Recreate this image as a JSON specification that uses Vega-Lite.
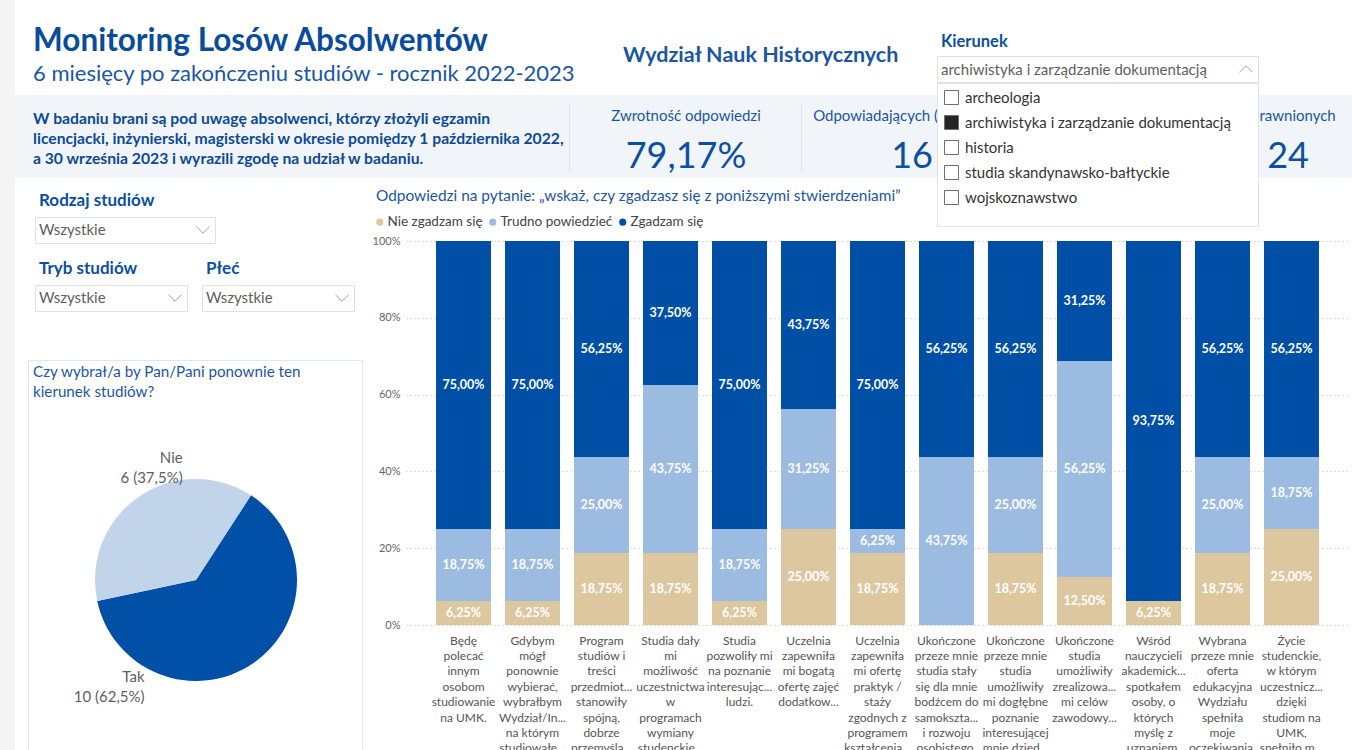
{
"$schema": "https://vega.github.io/schema/vega-lite/v6.json",
"background": "white",
"padding": 0,
"bounds": "flush",
"spacing": 0,
"resolve": {"scale": {"color": "independent", "theta": "independent"}, "legend": {"color": "independent"}},
"config": {
  "view": {"stroke": null},
  "font": "Lato",
  "locale": {"number": {"decimal": ",", "thousands": " ", "grouping": [3], "currency": ["", " zł"]}},
  "title": {"anchor": "start", "frame": "group"}
},
"vconcat": [
  {"bounds": "flush", "spacing": 0, "hconcat": [
    {"width": 15, "height": 750, "view": {"fill": "#f4f4f4"}, "data": {"values": [{}]}, "mark": {"type": "text", "text": ""}}
  ]},
  {"bounds": "flush", "spacing": 0, "hconcat": [
    {"width": 15, "height": 20, "data": {"values": [{}]}, "mark": {"type": "text", "text": ""}},
    {"width": 560, "height": 95, "data": {"values": [{}]}, "mark": {"type": "text", "text": ""},
     "title": {"text": "Monitoring Losów Absolwentów", "subtitle": "6 miesięcy po zakończeniu studiów - rocznik 2022-2023", "anchor": "start", "frame": "group", "offset": -85, "dx": 18, "fontSize": 31.5, "fontWeight": "bold", "color": "#0a4c9c", "subtitleFontSize": 22, "subtitleColor": "#1a56a4", "subtitleFontWeight": "normal", "subtitlePadding": 7}}
  ]},
  {"bounds": "flush", "spacing": 0, "hconcat": [
    {"width": 575, "height": 20, "data": {"values": [{}]}, "mark": {"type": "text", "text": ""}},
    {"width": 362, "height": 95, "data": {"values": [{}]}, "mark": {"type": "text", "text": ""},
     "title": {"text": "Wydział Nauk Historycznych", "anchor": "start", "frame": "group", "offset": -66, "dx": 48, "fontSize": 21.5, "fontWeight": "bold", "color": "#1a56a4"}}
  ]},
  {"bounds": "flush", "spacing": 0, "vconcat": [
    {"width": 1, "height": 95, "data": {"values": [{}]}, "mark": {"type": "text", "text": ""}},
    {"bounds": "flush", "spacing": 0, "hconcat": [
      {"width": 15, "height": 20, "data": {"values": [{}]}, "mark": {"type": "text", "text": ""}},
      {"width": 1337, "height": 83, "view": {"fill": "#f1f5fa"}, "data": {"values": [{}]}, "mark": {"type": "text", "text": ""}}
    ]}
  ]},
  {"bounds": "flush", "spacing": 0, "vconcat": [
    {"width": 1, "height": 103, "data": {"values": [{}]}, "mark": {"type": "text", "text": ""}},
    {"bounds": "flush", "spacing": 0, "hconcat": [
      {"width": 569, "height": 20, "data": {"values": [{}]}, "mark": {"type": "text", "text": ""}},
      {"width": 1, "height": 68, "view": {"fill": "#dbe2ea"}, "data": {"values": [{}]}, "mark": {"type": "text", "text": ""}}
    ]}
  ]},
  {"bounds": "flush", "spacing": 0, "vconcat": [
    {"width": 1, "height": 103, "data": {"values": [{}]}, "mark": {"type": "text", "text": ""}},
    {"bounds": "flush", "spacing": 0, "hconcat": [
      {"width": 801, "height": 20, "data": {"values": [{}]}, "mark": {"type": "text", "text": ""}},
      {"width": 1, "height": 68, "view": {"fill": "#dbe2ea"}, "data": {"values": [{}]}, "mark": {"type": "text", "text": ""}}
    ]}
  ]},
  {"bounds": "flush", "spacing": 0, "vconcat": [
    {"width": 1, "height": 95, "data": {"values": [{}]}, "mark": {"type": "text", "text": ""}},
    {"bounds": "flush", "spacing": 0, "hconcat": [
      {"width": 15, "height": 20, "data": {"values": [{}]}, "mark": {"type": "text", "text": ""}},
      {"width": 555, "height": 83, "data": {"values": [{}]}, "mark": {"type": "text", "text": ""},
       "title": {"text": ["W badaniu brani są pod uwagę absolwenci, którzy złożyli egzamin", "licencjacki, inżynierski, magisterski w okresie pomiędzy 1 października 2022,", "a 30 września 2023 i wyrazili zgodę na udział w badaniu."], "anchor": "start", "frame": "group", "offset": -73, "dx": 18, "fontSize": 15.7, "fontWeight": "bold", "color": "#0b4a96", "lineHeight": 20}}
    ]}
  ]},
  {"bounds": "flush", "spacing": 0, "vconcat": [
    {"width": 1, "height": 95, "data": {"values": [{}]}, "mark": {"type": "text", "text": ""}},
    {"bounds": "flush", "spacing": 0, "hconcat": [
      {"width": 570, "height": 20, "data": {"values": [{}]}, "mark": {"type": "text", "text": ""}},
      {"width": 232, "height": 83, "data": {"values": [{"label": "Zwrotność odpowiedzi", "v": 0.7917}]},
       "layer": [
         {"mark": {"type": "text", "fontSize": 15, "color": "#1a56a4", "baseline": "alphabetic", "dy": -16}, "encoding": {"text": {"field": "label", "type": "nominal"}}},
         {"mark": {"type": "text", "fontSize": 36, "color": "#0b4fa2", "baseline": "alphabetic", "dy": 31}, "encoding": {"text": {"field": "v", "type": "quantitative", "format": ".2%"}}}
       ]}
    ]}
  ]},
  {"bounds": "flush", "spacing": 0, "vconcat": [
    {"width": 1, "height": 95, "data": {"values": [{}]}, "mark": {"type": "text", "text": ""}},
    {"bounds": "flush", "spacing": 0, "hconcat": [
      {"width": 802, "height": 20, "data": {"values": [{}]}, "mark": {"type": "text", "text": ""}},
      {"width": 220, "height": 83, "data": {"values": [{"label": "Odpowiadających (ogółem)", "v": 16}]},
       "layer": [
         {"mark": {"type": "text", "fontSize": 15, "color": "#1a56a4", "baseline": "alphabetic", "dy": -16, "dx": -10}, "encoding": {"text": {"field": "label", "type": "nominal"}}},
         {"mark": {"type": "text", "fontSize": 36, "color": "#0b4fa2", "baseline": "alphabetic", "dy": 31}, "encoding": {"text": {"field": "v", "type": "quantitative", "format": "d"}}}
       ]}
    ]}
  ]},
  {"bounds": "flush", "spacing": 0, "vconcat": [
    {"width": 1, "height": 95, "data": {"values": [{}]}, "mark": {"type": "text", "text": ""}},
    {"bounds": "flush", "spacing": 0, "hconcat": [
      {"width": 1224, "height": 20, "data": {"values": [{}]}, "mark": {"type": "text", "text": ""}},
      {"width": 128, "height": 83, "data": {"values": [{"label": "Uprawnionych", "v": 24}]},
       "layer": [
         {"mark": {"type": "text", "fontSize": 15, "color": "#1a56a4", "baseline": "alphabetic", "dy": -16}, "encoding": {"text": {"field": "label", "type": "nominal"}}},
         {"mark": {"type": "text", "fontSize": 36, "color": "#0b4fa2", "baseline": "alphabetic", "dy": 31}, "encoding": {"text": {"field": "v", "type": "quantitative", "format": "d"}}}
       ]}
    ]}
  ]},
  {"bounds": "flush", "spacing": 0, "vconcat": [
    {"width": 1, "height": 56, "data": {"values": [{}]}, "mark": {"type": "text", "text": ""}},
    {"bounds": "flush", "spacing": 0, "hconcat": [
      {"width": 937, "height": 20, "data": {"values": [{}]}, "mark": {"type": "text", "text": ""}},
      {"width": 321, "height": 26, "view": {"fill": "white", "stroke": "#e0e0e0"}, "data": {"values": [{}]},
       "mark": {"type": "point", "shape": "M-1,0.5L0,-0.5L1,0.5", "filled": false, "stroke": "#7a7a7a", "strokeWidth": 1, "size": 170, "xOffset": -12},
       "encoding": {"x": {"value": "width"}},
       "title": {"text": "Kierunek", "subtitle": "archiwistyka i zarządzanie dokumentacją", "anchor": "start", "frame": "group", "offset": -22, "dx": 4, "fontSize": 16.5, "fontWeight": "bold", "color": "#0b4f9f", "subtitleFontSize": 15, "subtitleColor": "#605e5c", "subtitleFontWeight": "normal", "subtitlePadding": 13}}
    ]}
  ]},
  {"bounds": "flush", "spacing": 0, "resolve": {"scale": {"color": "independent"}, "legend": {"color": "independent"}}, "vconcat": [
    {"width": 1, "height": 83, "data": {"values": [{}]}, "mark": {"type": "text", "text": ""}},
    {"bounds": "flush", "spacing": 0, "resolve": {"scale": {"color": "independent"}, "legend": {"color": "independent"}}, "hconcat": [
      {"width": 937, "height": 20, "data": {"values": [{}]}, "mark": {"type": "text", "text": ""}},
      {"width": 321, "height": 143, "view": {"fill": "white", "stroke": "#e3e3e3"},
       "data": {"values": [{"k": "archeologia"}, {"k": "archiwistyka i zarządzanie dokumentacją"}, {"k": "historia"}, {"k": "studia skandynawsko-bałtyckie"}, {"k": "wojskoznawstwo"}]},
       "mark": {"type": "point", "shape": "square", "filled": true, "opacity": 0, "stroke": "#6e6e6e", "strokeWidth": 1},
       "encoding": {"color": {"field": "k", "type": "nominal",
         "scale": {"domain": ["archeologia", "archiwistyka i zarządzanie dokumentacją", "historia", "studia skandynawsko-bałtyckie", "wojskoznawstwo"], "range": ["white", "#252423", "white", "white", "white"]},
         "legend": {"orient": "top-left", "offset": 7, "title": null, "symbolType": "square", "symbolSize": 196, "symbolStrokeColor": "#6e6e6e", "symbolStrokeWidth": 1, "symbolOpacity": 1, "labelFontSize": 15, "labelColor": "#333333", "labelOffset": 6, "rowPadding": 6, "labelLimit": 400, "padding": 0}}}}
    ]}
  ]},
  {"bounds": "flush", "spacing": 0, "vconcat": [
    {"width": 1, "height": 217, "data": {"values": [{}]}, "mark": {"type": "text", "text": ""}},
    {"bounds": "flush", "spacing": 0, "hconcat": [
      {"width": 35, "height": 20, "data": {"values": [{}]}, "mark": {"type": "text", "text": ""}},
      {"width": 180, "height": 26, "view": {"fill": "white", "stroke": "#e1e1e1"}, "data": {"values": [{}]},
       "mark": {"type": "point", "shape": "M-1,-0.5L0,0.5L1,-0.5", "filled": false, "stroke": "#7a7a7a", "strokeWidth": 1, "size": 170, "xOffset": -12},
       "encoding": {"x": {"value": "width"}},
       "title": {"text": "Rodzaj studiów", "subtitle": "Wszystkie", "anchor": "start", "frame": "group", "offset": -22, "dx": 4, "fontSize": 17, "fontWeight": "bold", "color": "#0b4f9f", "subtitleFontSize": 15, "subtitleColor": "#605e5c", "subtitleFontWeight": "normal", "subtitlePadding": 13}}
    ]}
  ]},
  {"bounds": "flush", "spacing": 0, "vconcat": [
    {"width": 1, "height": 285, "data": {"values": [{}]}, "mark": {"type": "text", "text": ""}},
    {"bounds": "flush", "spacing": 0, "hconcat": [
      {"width": 35, "height": 20, "data": {"values": [{}]}, "mark": {"type": "text", "text": ""}},
      {"width": 152, "height": 26, "view": {"fill": "white", "stroke": "#e1e1e1"}, "data": {"values": [{}]},
       "mark": {"type": "point", "shape": "M-1,-0.5L0,0.5L1,-0.5", "filled": false, "stroke": "#7a7a7a", "strokeWidth": 1, "size": 170, "xOffset": -12},
       "encoding": {"x": {"value": "width"}},
       "title": {"text": "Tryb studiów", "subtitle": "Wszystkie", "anchor": "start", "frame": "group", "offset": -22, "dx": 4, "fontSize": 17, "fontWeight": "bold", "color": "#0b4f9f", "subtitleFontSize": 15, "subtitleColor": "#605e5c", "subtitleFontWeight": "normal", "subtitlePadding": 13}}
    ]}
  ]},
  {"bounds": "flush", "spacing": 0, "vconcat": [
    {"width": 1, "height": 285, "data": {"values": [{}]}, "mark": {"type": "text", "text": ""}},
    {"bounds": "flush", "spacing": 0, "hconcat": [
      {"width": 202, "height": 20, "data": {"values": [{}]}, "mark": {"type": "text", "text": ""}},
      {"width": 152, "height": 26, "view": {"fill": "white", "stroke": "#e1e1e1"}, "data": {"values": [{}]},
       "mark": {"type": "point", "shape": "M-1,-0.5L0,0.5L1,-0.5", "filled": false, "stroke": "#7a7a7a", "strokeWidth": 1, "size": 170, "xOffset": -12},
       "encoding": {"x": {"value": "width"}},
       "title": {"text": "Płeć", "subtitle": "Wszystkie", "anchor": "start", "frame": "group", "offset": -22, "dx": 4, "fontSize": 17, "fontWeight": "bold", "color": "#0b4f9f", "subtitleFontSize": 15, "subtitleColor": "#605e5c", "subtitleFontWeight": "normal", "subtitlePadding": 13}}
    ]}
  ]},
  {"bounds": "flush", "spacing": 0, "vconcat": [
    {"width": 1, "height": 360, "data": {"values": [{}]}, "mark": {"type": "text", "text": ""}},
    {"bounds": "flush", "spacing": 0, "hconcat": [
      {"width": 28, "height": 20, "data": {"values": [{}]}, "mark": {"type": "text", "text": ""}},
      {"width": 334, "height": 390, "view": {"fill": "white", "stroke": "#dfe6ee"}, "data": {"values": [{}]}, "mark": {"type": "text", "text": ""},
       "title": {"text": ["Czy wybrał/a by Pan/Pani ponownie ten", "kierunek studiów?"], "anchor": "start", "frame": "group", "offset": -40, "dx": 5, "fontSize": 15.2, "fontWeight": "normal", "color": "#1a56a4", "lineHeight": 20}}
    ]}
  ]},
  {"bounds": "flush", "spacing": 0, "resolve": {"scale": {"color": "independent", "theta": "independent"}, "legend": {"color": "independent"}}, "vconcat": [
    {"width": 1, "height": 479, "data": {"values": [{}]}, "mark": {"type": "text", "text": ""}},
    {"bounds": "flush", "spacing": 0, "resolve": {"scale": {"color": "independent", "theta": "independent"}, "legend": {"color": "independent"}}, "hconcat": [
      {"width": 95, "height": 20, "data": {"values": [{}]}, "mark": {"type": "text", "text": ""}},
      {"width": 202, "height": 202,
       "data": {"values": [{"odp": "Tak", "n": 10}, {"odp": "Nie", "n": 6}]},
       "layer": [
         {"mark": {"type": "arc"},
          "encoding": {
            "theta": {"field": "n", "type": "quantitative", "stack": true, "scale": {"range": [4.503, 10.786]}},
            "color": {"field": "odp", "type": "nominal", "scale": {"domain": ["Nie", "Tak"], "range": ["#c2d4ea", "#0050a8"]}, "legend": null}}},
         {"transform": [
            {"joinaggregate": [{"op": "sum", "field": "n", "as": "tot"}]},
            {"calculate": "[datum.odp, datum.n + ' (' + format(datum.n / datum.tot, '.1%') + ')']", "as": "lab"}],
          "mark": {"type": "text", "align": "right", "baseline": "middle", "fontSize": 15, "lineHeight": 20, "color": "#605e5c", "radius": 116, "dy": -7},
          "encoding": {
            "theta": {"field": "n", "type": "quantitative", "stack": true, "scale": {"range": [7.1308, 1.996]}},
            "detail": {"field": "odp", "type": "nominal"},
            "text": {"field": "lab", "type": "nominal"}}}
       ],
       "resolve": {"scale": {"theta": "independent"}}}
    ]}
  ]},
  {"bounds": "flush", "spacing": 0, "resolve": {"scale": {"color": "independent"}, "legend": {"color": "independent"}}, "vconcat": [
    {"width": 1, "height": 241, "data": {"values": [{}]}, "mark": {"type": "text", "text": ""}},
    {"bounds": "flush", "spacing": 0, "resolve": {"scale": {"color": "independent"}, "legend": {"color": "independent"}}, "hconcat": [
      {"width": 406, "height": 20, "data": {"values": [{}]}, "mark": {"type": "text", "text": ""}},
      {"width": 943, "height": 384,
       "title": {"text": "Odpowiedzi na pytanie: „wskaż, czy zgadzasz się z poniższymi stwierdzeniami”", "anchor": "start", "frame": "group", "dx": -30, "offset": 11, "fontSize": 15.4, "fontWeight": "normal", "color": "#1a56a4"},
       "data": {"values": [
         {"q": "Będę|polecać|innym|osobom|studiowanie|na UMK.", "odp": "Nie zgadzam się", "v": 0.0625},
         {"q": "Będę|polecać|innym|osobom|studiowanie|na UMK.", "odp": "Trudno powiedzieć", "v": 0.1875},
         {"q": "Będę|polecać|innym|osobom|studiowanie|na UMK.", "odp": "Zgadzam się", "v": 0.75},
         {"q": "Gdybym|mógł|ponownie|wybierać,|wybrałbym|Wydział/In...|na którym|studiowałe...", "odp": "Nie zgadzam się", "v": 0.0625},
         {"q": "Gdybym|mógł|ponownie|wybierać,|wybrałbym|Wydział/In...|na którym|studiowałe...", "odp": "Trudno powiedzieć", "v": 0.1875},
         {"q": "Gdybym|mógł|ponownie|wybierać,|wybrałbym|Wydział/In...|na którym|studiowałe...", "odp": "Zgadzam się", "v": 0.75},
         {"q": "Program|studiów i|treści|przedmiot...|stanowiły|spójną,|dobrze|przemyśla...", "odp": "Nie zgadzam się", "v": 0.1875},
         {"q": "Program|studiów i|treści|przedmiot...|stanowiły|spójną,|dobrze|przemyśla...", "odp": "Trudno powiedzieć", "v": 0.25},
         {"q": "Program|studiów i|treści|przedmiot...|stanowiły|spójną,|dobrze|przemyśla...", "odp": "Zgadzam się", "v": 0.5625},
         {"q": "Studia dały|mi|możliwość|uczestnictwa|w|programach|wymiany|studenckie...", "odp": "Nie zgadzam się", "v": 0.1875},
         {"q": "Studia dały|mi|możliwość|uczestnictwa|w|programach|wymiany|studenckie...", "odp": "Trudno powiedzieć", "v": 0.4375},
         {"q": "Studia dały|mi|możliwość|uczestnictwa|w|programach|wymiany|studenckie...", "odp": "Zgadzam się", "v": 0.375},
         {"q": "Studia|pozwoliły mi|na poznanie|interesując...|ludzi.", "odp": "Nie zgadzam się", "v": 0.0625},
         {"q": "Studia|pozwoliły mi|na poznanie|interesując...|ludzi.", "odp": "Trudno powiedzieć", "v": 0.1875},
         {"q": "Studia|pozwoliły mi|na poznanie|interesując...|ludzi.", "odp": "Zgadzam się", "v": 0.75},
         {"q": "Uczelnia|zapewniła|mi bogatą|ofertę zajęć|dodatkow...", "odp": "Nie zgadzam się", "v": 0.25},
         {"q": "Uczelnia|zapewniła|mi bogatą|ofertę zajęć|dodatkow...", "odp": "Trudno powiedzieć", "v": 0.3125},
         {"q": "Uczelnia|zapewniła|mi bogatą|ofertę zajęć|dodatkow...", "odp": "Zgadzam się", "v": 0.4375},
         {"q": "Uczelnia|zapewniła|mi ofertę|praktyk /|staży|zgodnych z|programem|kształcenia...", "odp": "Nie zgadzam się", "v": 0.1875},
         {"q": "Uczelnia|zapewniła|mi ofertę|praktyk /|staży|zgodnych z|programem|kształcenia...", "odp": "Trudno powiedzieć", "v": 0.0625},
         {"q": "Uczelnia|zapewniła|mi ofertę|praktyk /|staży|zgodnych z|programem|kształcenia...", "odp": "Zgadzam się", "v": 0.75},
         {"q": "Ukończone|przeze mnie|studia stały|się dla mnie|bodźcem do|samokszta...|i rozwoju|osobistego.", "odp": "Trudno powiedzieć", "v": 0.4375},
         {"q": "Ukończone|przeze mnie|studia stały|się dla mnie|bodźcem do|samokszta...|i rozwoju|osobistego.", "odp": "Zgadzam się", "v": 0.5625},
         {"q": "Ukończone|przeze mnie|studia|umożliwiły|mi dogłębne|poznanie|interesującej|mnie dzied...", "odp": "Nie zgadzam się", "v": 0.1875},
         {"q": "Ukończone|przeze mnie|studia|umożliwiły|mi dogłębne|poznanie|interesującej|mnie dzied...", "odp": "Trudno powiedzieć", "v": 0.25},
         {"q": "Ukończone|przeze mnie|studia|umożliwiły|mi dogłębne|poznanie|interesującej|mnie dzied...", "odp": "Zgadzam się", "v": 0.5625},
         {"q": "Ukończone|studia|umożliwiły|zrealizowa...|mi celów|zawodowy...", "odp": "Nie zgadzam się", "v": 0.125},
         {"q": "Ukończone|studia|umożliwiły|zrealizowa...|mi celów|zawodowy...", "odp": "Trudno powiedzieć", "v": 0.5625},
         {"q": "Ukończone|studia|umożliwiły|zrealizowa...|mi celów|zawodowy...", "odp": "Zgadzam się", "v": 0.3125},
         {"q": "Wśród|nauczycieli|akademick...|spotkałem|osoby, o|których|myślę z|uznaniem.", "odp": "Nie zgadzam się", "v": 0.0625},
         {"q": "Wśród|nauczycieli|akademick...|spotkałem|osoby, o|których|myślę z|uznaniem.", "odp": "Zgadzam się", "v": 0.9375},
         {"q": "Wybrana|przeze mnie|oferta|edukacyjna|Wydziału|spełniła|moje|oczekiwania.", "odp": "Nie zgadzam się", "v": 0.1875},
         {"q": "Wybrana|przeze mnie|oferta|edukacyjna|Wydziału|spełniła|moje|oczekiwania.", "odp": "Trudno powiedzieć", "v": 0.25},
         {"q": "Wybrana|przeze mnie|oferta|edukacyjna|Wydziału|spełniła|moje|oczekiwania.", "odp": "Zgadzam się", "v": 0.5625},
         {"q": "Życie|studenckie,|w którym|uczestnicz...|dzięki|studiom na|UMK,|spełniło m...", "odp": "Nie zgadzam się", "v": 0.25},
         {"q": "Życie|studenckie,|w którym|uczestnicz...|dzięki|studiom na|UMK,|spełniło m...", "odp": "Trudno powiedzieć", "v": 0.1875},
         {"q": "Życie|studenckie,|w którym|uczestnicz...|dzięki|studiom na|UMK,|spełniło m...", "odp": "Zgadzam się", "v": 0.5625}
       ]},
       "encoding": {
         "x": {"field": "q", "type": "nominal", "sort": null, "scale": {"paddingInner": 0.203, "paddingOuter": 0.435},
               "axis": {"title": null, "labelExpr": "split(datum.label, '|')", "labelAngle": 0, "labelFontSize": 12, "labelColor": "#555555", "labelLineHeight": 15.4, "labelPadding": 10, "labelBaseline": "top", "domain": false, "ticks": false, "labelOverlap": false, "labelLimit": 200, "grid": false}}
       },
       "layer": [
         {"mark": {"type": "bar"},
          "encoding": {
            "y": {"field": "v", "type": "quantitative", "stack": "zero", "scale": {"domain": [0, 1]},
                  "axis": {"title": null, "format": ".0%", "values": [0, 0.2, 0.4, 0.6, 0.8, 1], "labelFontSize": 11, "labelColor": "#666666", "domain": false, "ticks": false, "grid": true, "gridDash": [1, 3], "gridColor": "#bdbdbd", "labelPadding": 6}},
            "color": {"field": "odp", "type": "nominal",
                      "scale": {"domain": ["Nie zgadzam się", "Trudno powiedzieć", "Zgadzam się"], "range": ["#dcc79f", "#9cbbe1", "#004fa6"]},
                      "legend": {"orient": "none", "legendX": -33, "legendY": -26, "direction": "horizontal", "title": null, "symbolType": "circle", "symbolSize": 50, "labelFontSize": 13.5, "labelColor": "#444444", "columnPadding": 3, "labelOffset": 1, "padding": 0}},
            "order": {"field": "odp", "sort": "ascending"}}},
         {"transform": [
            {"stack": "v", "groupby": ["q"], "sort": [{"field": "odp", "order": "ascending"}], "as": ["v0", "v1"]},
            {"calculate": "(datum.v0 + datum.v1) / 2", "as": "mid"}],
          "mark": {"type": "text", "color": "white", "fontWeight": "bold", "fontSize": 12.5, "baseline": "middle"},
          "encoding": {
            "y": {"field": "mid", "type": "quantitative", "scale": {"domain": [0, 1]},
                  "axis": {"title": null, "format": ".0%", "values": [0, 0.2, 0.4, 0.6, 0.8, 1], "labelFontSize": 11, "labelColor": "#666666", "domain": false, "ticks": false, "grid": true, "gridDash": [1, 3], "gridColor": "#bdbdbd", "labelPadding": 6}},
            "text": {"field": "v", "type": "quantitative", "format": ".2%"}}}
       ]}
    ]}
  ]}
]
}
